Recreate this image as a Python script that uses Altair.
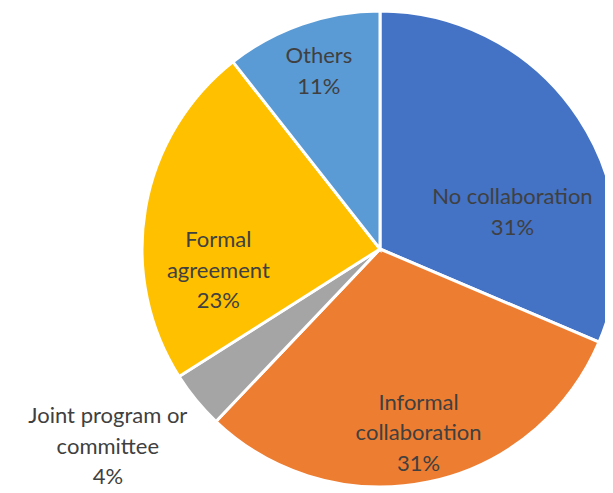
import altair as alt
import pandas as pd
import math

categories = ["No collaboration", "Informal collaboration", "Joint program or committee",
              "Formal agreement", "Others"]
label_names = ["No collaboration", "Informal\ncollaboration", "Joint program or\ncommittee",
               "Formal\nagreement", "Others"]
values = [31.4, 30.7, 3.9, 23.4, 10.6]
colors = ["#4472C4", "#ED7D31", "#A5A5A5", "#FFC000", "#5B9BD5"]

total = sum(values)
df = pd.DataFrame({
    "idx": list(range(len(categories))),
    "category": categories,
    "value": values,
    "label": [f"{n}\n{round(v / total * 100):.0f}%" for n, v in zip(label_names, values)],
})

CX, CY, R = 372, 241, 238
FONT = "Lato"
LH = 30.5

base = alt.Chart(df)

pie = base.mark_arc(outerRadius=R, stroke="white", strokeWidth=3, x=CX, y=CY).encode(
    theta=alt.Theta("value:Q", stack=True, scale=alt.Scale(domain=[0, total], range=[0, 2 * math.pi])),
    color=alt.Color("category:N", scale=alt.Scale(domain=categories, range=colors), legend=None),
    order=alt.Order("idx:Q"),
)

# label layout: (radius, dx, dy of block centre) per slice
layout = {
    "No collaboration": (160, -1, 52),
    "Informal collaboration": (190, 0, -2),
    "Joint program or committee": (340, -9.5, -18),
    "Formal agreement": (163, -1, 49.5),
    "Others": (187, 0, -1),
}

layers = [pie]
for cat, name in zip(categories, label_names):
    r, dx, dy = layout[cat]
    n_lines = name.count("\n") + 2
    dy_first = dy - (n_lines - 1) * LH / 2
    t = (
        base.transform_window(cum="sum(value)", sort=[alt.SortField("idx")])
        .transform_calculate(mid="datum.cum - datum.value / 2")
        .transform_filter(alt.datum.category == cat)
        .mark_text(radius=r, dx=dx, dy=dy_first, x=CX, y=CY, font=FONT, fontSize=22,
                   color="#404040", lineBreak="\n", lineHeight=LH,
                   align="center", baseline="middle")
        .encode(
            theta=alt.Theta("mid:Q", stack=False,
                            scale=alt.Scale(domain=[0, total], range=[0, 2 * math.pi])),
            text="label:N",
        )
    )
    layers.append(t)

chart = alt.layer(*layers).properties(
    width=597, height=481, padding=0, autosize=alt.AutoSizeParams(type="none"),
).configure_view(stroke=None)

chart.save("out.html", embed_options={"renderer": "svg", "actions": False})
